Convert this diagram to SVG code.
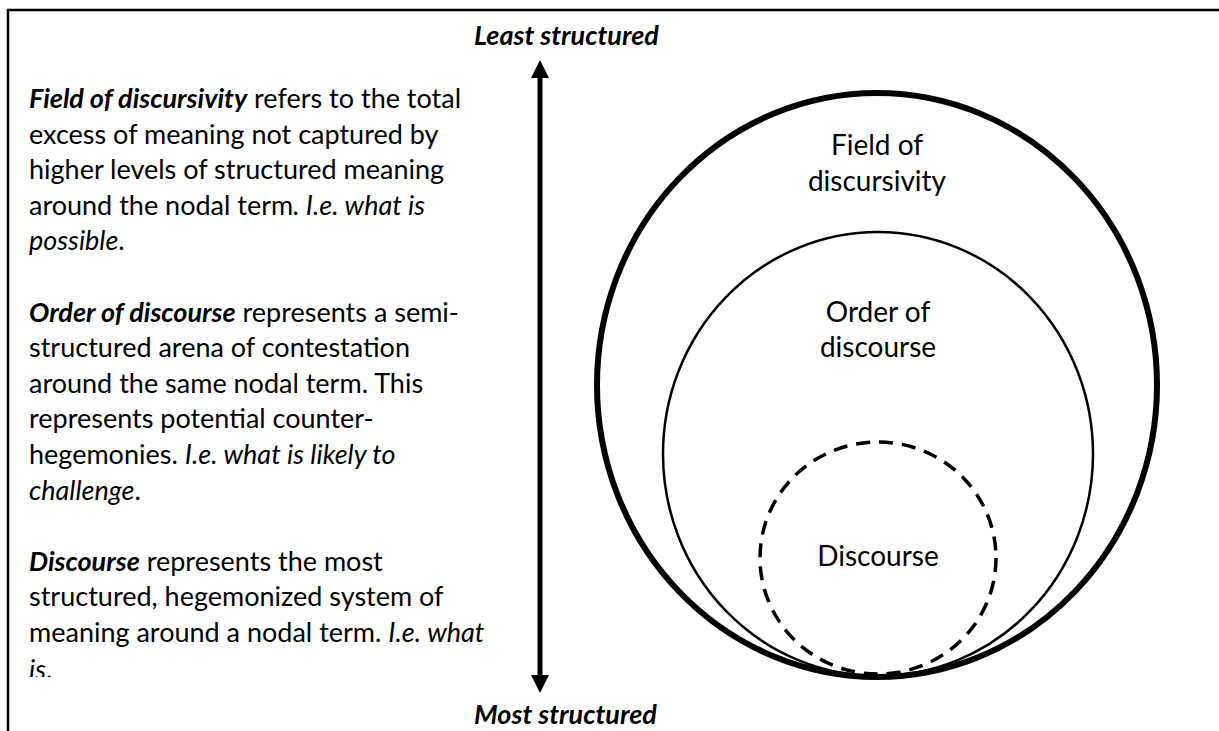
<svg xmlns="http://www.w3.org/2000/svg" width="1219" height="731" viewBox="0 0 1219 731">
<defs>
<style>
.t{font-family:Lato,"Liberation Sans",sans-serif;font-size:27px;fill:#000}
.lab{font-size:28px;text-anchor:middle}
.b{font-weight:bold;font-style:italic}
.i{font-style:italic}
</style>
<marker id="ah" viewBox="0 0 18 18" refX="0" refY="9" markerWidth="18" markerHeight="18" orient="auto-start-reverse" markerUnits="userSpaceOnUse">
<path d="M0,0 L18,9 L0,18 z" fill="#000"/>
</marker>
<clipPath id="clip"><rect x="0" y="0" width="530" height="677"/></clipPath>
</defs>
<rect width="1219" height="731" fill="#fff"/>
<rect id="frame" x="8" y="10" width="1230" height="740" fill="none" stroke="#000" stroke-width="2.5"/>
<g id="connectors">
<line x1="540" y1="78" x2="540" y2="675" stroke="#000" stroke-width="5" marker-start="url(#ah)" marker-end="url(#ah)"/>
</g>
<g id="axis-labels" class="t b">
<text x="474" y="45">Least structured</text>
<text x="474" y="724">Most structured</text>
</g>
<g id="description" class="t" clip-path="url(#clip)">
<text x="29" y="108"><tspan class="b">Field of discursivity</tspan> refers to the total</text>
<text x="29" y="143.6">excess of meaning not captured by</text>
<text x="29" y="179.2">higher levels of structured meaning</text>
<text x="29" y="214.8">around the nodal term<tspan class="i">. I.e. what is</tspan></text>
<text x="29" y="250.4"><tspan class="i">possible</tspan>.</text>
<text x="29" y="321.6"><tspan class="b">Order of discourse</tspan> represents a semi-</text>
<text x="29" y="357.2">structured arena of contestation</text>
<text x="29" y="392.8">around the same nodal term. This</text>
<text x="29" y="428.4">represents potential counter-</text>
<text x="29" y="464">hegemonies. <tspan class="i">I.e. what is likely to</tspan></text>
<text x="29" y="499.6"><tspan class="i">challenge</tspan>.</text>
<text x="29" y="570.8"><tspan class="b">Discourse</tspan> represents the most</text>
<text x="29" y="606.4">structured, hegemonized system of</text>
<text x="29" y="642">meaning around a nodal term. <tspan class="i">I.e. what</tspan></text>
<text x="29" y="679"><tspan class="i">is</tspan>.</text>
</g>
<g id="field-of-discursivity">
<ellipse cx="877" cy="385" rx="280" ry="292" fill="none" stroke="#000" stroke-width="6"/>
<text class="t lab" x="877" y="155">Field of</text>
<text class="t lab" x="877" y="191">discursivity</text>
</g>
<g id="order-of-discourse">
<ellipse cx="878" cy="454" rx="215" ry="222" fill="none" stroke="#000" stroke-width="2.5"/>
<text class="t lab" x="878" y="322">Order of</text>
<text class="t lab" x="878" y="357">discourse</text>
</g>
<g id="discourse">
<ellipse cx="878" cy="558" rx="118" ry="116" fill="none" stroke="#000" stroke-width="3.5" stroke-dasharray="14 9"/>
<text class="t lab" x="878" y="566">Discourse</text>
</g>
</svg>
